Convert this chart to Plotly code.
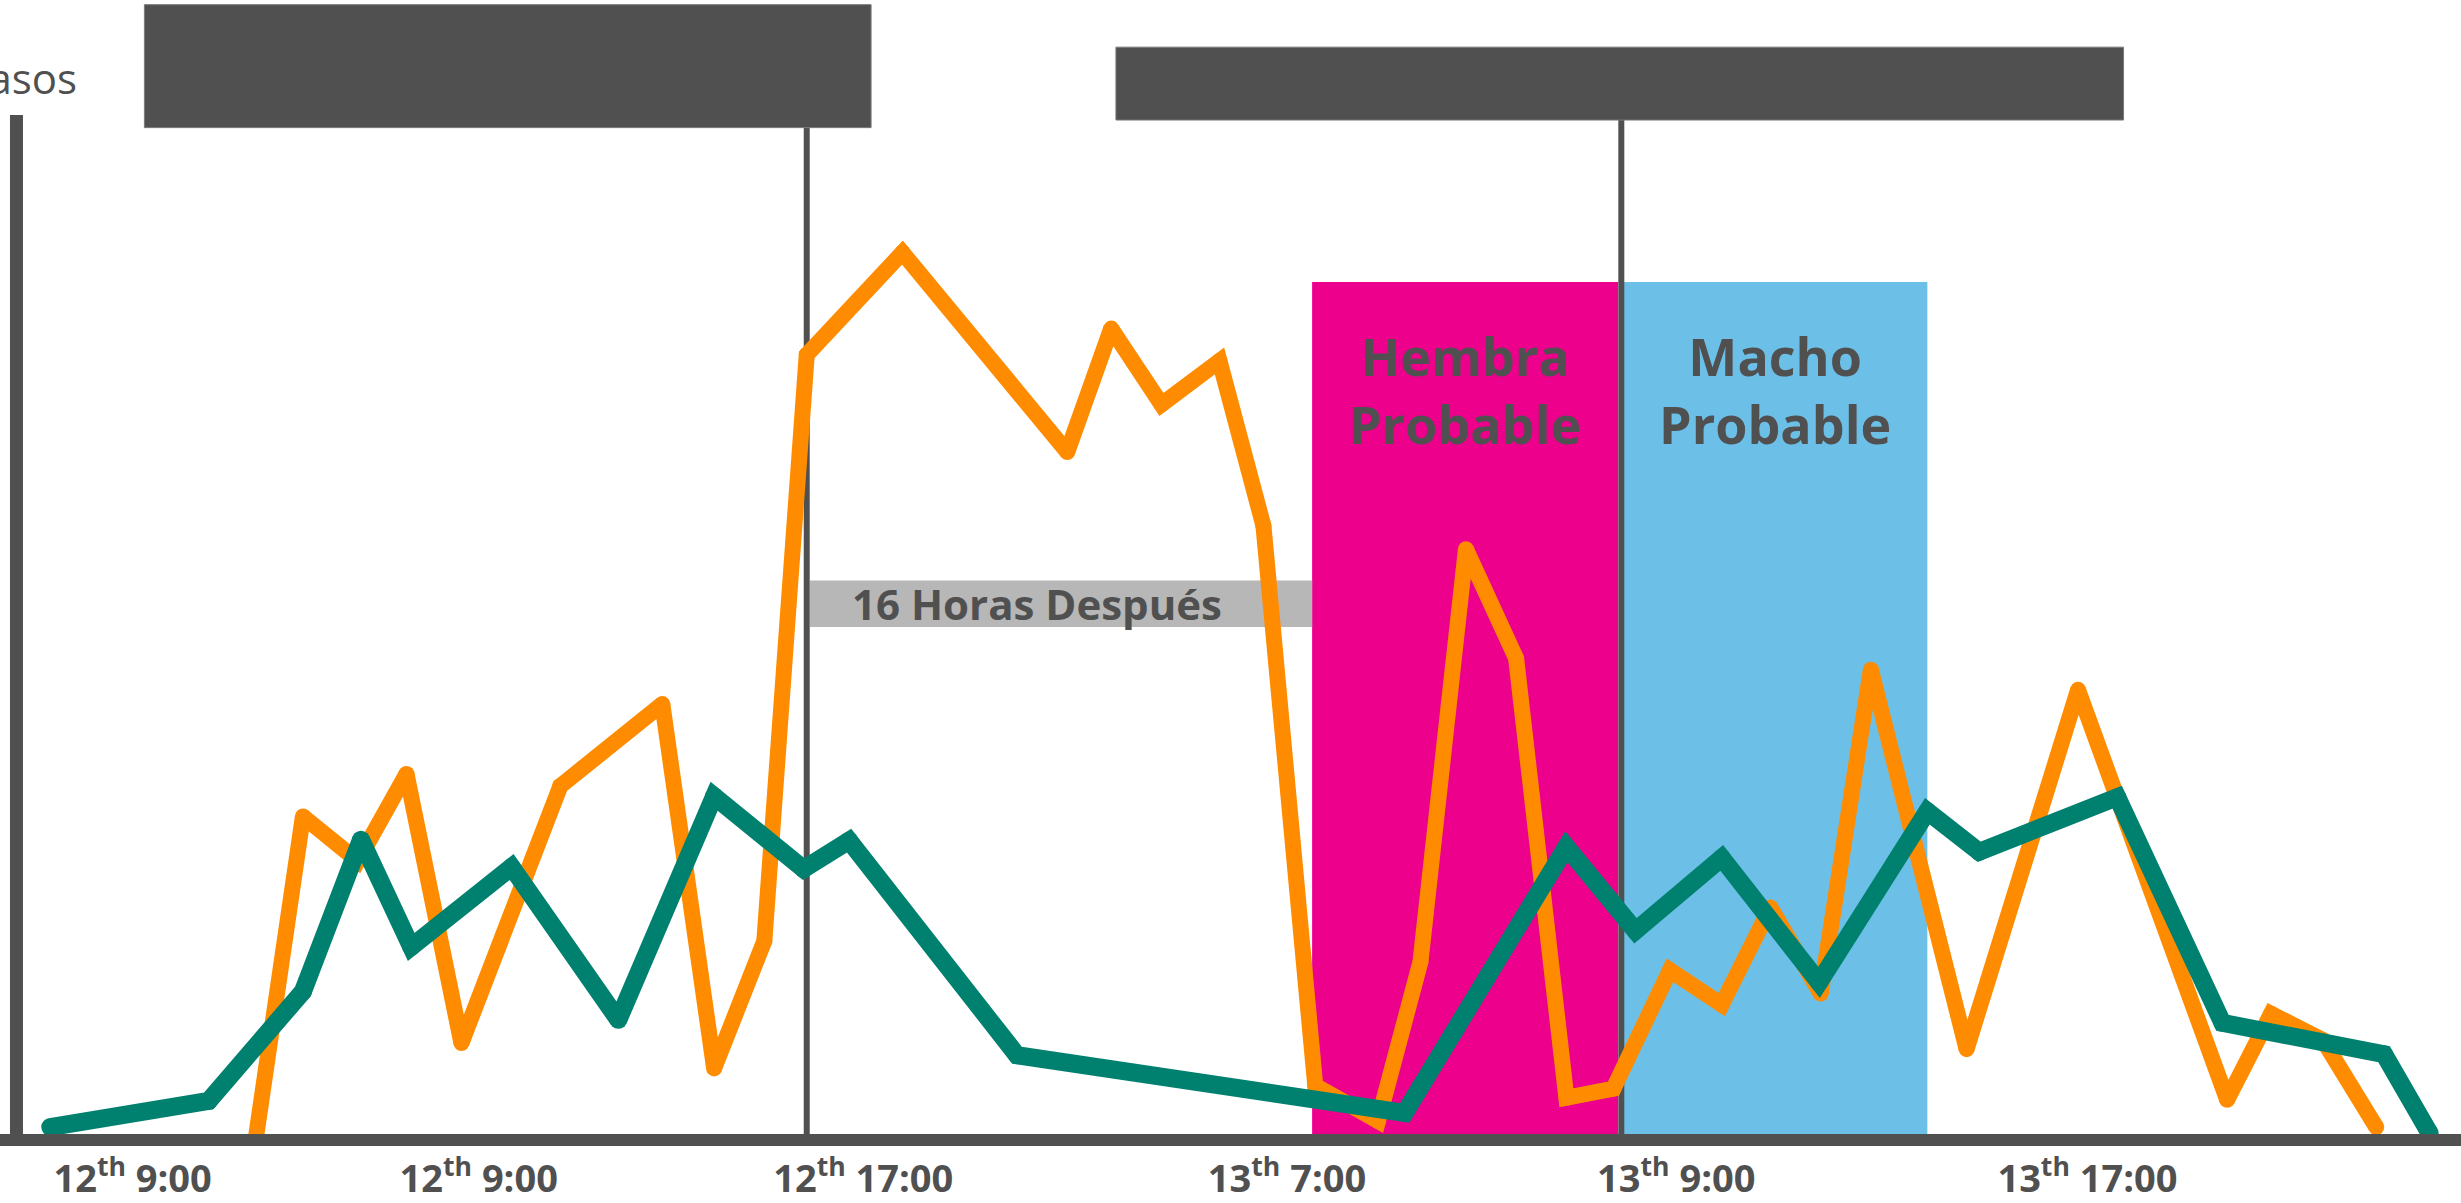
import plotly.graph_objects as go

# ---- data (x in chart time units, y in "casos" units) ----
orange_x = [16.3, 19.3, 22.8, 25.9, 29.4, 35.7, 42.2, 45.5, 48.7, 51.4, 57.5, 68.0, 70.8, 74.0,
            77.7, 80.5, 83.8, 87.8, 90.5, 93.4, 96.6, 99.8, 102.8, 106.4, 109.7, 112.8, 116.0,
            119.2, 125.3, 132.4, 141.9, 144.7, 148.0, 151.4]
orange_y = [0.0, 31.8, 27.4, 36.0, 9.4, 34.8, 42.9, 6.9, 19.5, 77.4, 87.5, 67.8, 80.0, 72.5,
            76.8, 60.5, 5.2, 1.7, 17.4, 58.2, 47.4, 4.0, 4.9, 16.6, 13.2, 22.8, 14.3,
            46.3, 8.8, 44.3, 3.8, 12.3, 9.7, 1.1]

green_x = [3.2, 13.3, 19.3, 23.0, 26.2, 32.6, 39.4, 45.5, 51.2, 54.1, 64.8, 89.5, 99.8, 104.2,
           109.7, 115.9, 122.8, 126.1, 134.9, 141.6, 151.9, 154.8]
green_y = [1.1, 3.7, 14.5, 29.5, 18.9, 26.8, 11.7, 33.8, 26.6, 29.4, 8.2, 2.5, 28.8, 20.5,
           27.7, 15.4, 32.3, 28.3, 33.7, 11.4, 8.3, 0.5]

tick_vals = [8.45, 30.5, 55.0, 82.0, 106.8, 133.0]
tick_text = ["<b>12<sup>th</sup> 9:00</b>", "<b>12<sup>th</sup> 9:00</b>", "<b>12<sup>th</sup> 17:00</b>",
             "<b>13<sup>th</sup> 7:00</b>", "<b>13<sup>th</sup> 9:00</b>", "<b>13<sup>th</sup> 17:00</b>"]

# annotation regions (x spans, y levels)
event_x = [51.4, 103.3]
hembra_span = [83.6, 103.1]
macho_span = [103.4, 122.8]
region_top = 84.6
band_span = [51.6, 83.6]
band_y = [50.5, 55.1]
box1 = [9.2, 55.5, 99.85, 112.0]
box2 = [71.1, 135.3, 100.6, 107.8]
yaxis_top = 101.1

DARK = "#505050"
ORANGE = "#FF8C00"
GREEN = "#00806E"
PINK = "#EC008C"
BLUE = "#6CC0E8"
BAND = "#B7B7B7"
FONT = "Open Sans"

fig = go.Figure()
fig.add_trace(go.Scatter(x=orange_x, y=orange_y, mode="lines+markers",
                         line=dict(color=ORANGE, width=16),
                         marker=dict(color=ORANGE, size=16, line=dict(width=0)),
                         hoverinfo="skip", showlegend=False))
fig.add_trace(go.Scatter(x=green_x, y=green_y, mode="lines+markers",
                         line=dict(color=GREEN, width=18),
                         marker=dict(color=GREEN, size=18, line=dict(width=0)),
                         hoverinfo="skip", showlegend=False))

shapes = []
shapes.append(dict(type="rect", xref="x", yref="y", x0=hembra_span[0], x1=hembra_span[1],
                   y0=0, y1=region_top, fillcolor=PINK, line=dict(width=0), layer="below"))
shapes.append(dict(type="rect", xref="x", yref="y", x0=macho_span[0], x1=macho_span[1],
                   y0=0, y1=region_top, fillcolor=BLUE, line=dict(width=0), layer="below"))
shapes.append(dict(type="rect", xref="x", yref="y", x0=band_span[0], x1=band_span[1],
                   y0=band_y[0], y1=band_y[1], fillcolor=BAND, line=dict(width=0), layer="below"))
shapes.append(dict(type="line", xref="x", yref="y", x0=event_x[0], x1=event_x[0],
                   y0=0, y1=box1[2], line=dict(color=DARK, width=6), layer="below"))
shapes.append(dict(type="line", xref="x", yref="y", x0=event_x[1], x1=event_x[1],
                   y0=0, y1=box2[2], line=dict(color=DARK, width=6), layer="below"))
for b in (box1, box2):
    shapes.append(dict(type="rect", xref="x", yref="y", x0=b[0], x1=b[1], y0=b[2], y1=b[3],
                       fillcolor=DARK, line=dict(color="#7a7a7a", width=1), layer="above"))
shapes.append(dict(type="line", xref="x", yref="y", x0=1.05, x1=1.05, y0=0, y1=yaxis_top,
                   line=dict(color=DARK, width=13), layer="above"))
fig.update_layout(shapes=shapes)

annotations = [
    dict(x=sum(hembra_span) / 2, y=74.0, xref="x", yref="y", text="<b>Hembra<br>Probable</b>",
         showarrow=False, font=dict(family=FONT, size=52, color=DARK), align="center"),
    dict(x=sum(macho_span) / 2, y=74.0, xref="x", yref="y", text="<b>Macho<br>Probable</b>",
         showarrow=False, font=dict(family=FONT, size=52, color=DARK), align="center"),
    dict(x=66.1, y=sum(band_y) / 2, xref="x", yref="y", text="<b>16 Horas Después</b>",
         showarrow=False, font=dict(family=FONT, size=42, color=DARK)),
    dict(x=79 / 2461, y=(1143 - 78) / 1143, xref="paper", yref="paper", text="Casos",
         xanchor="right", yanchor="middle", showarrow=False,
         font=dict(family=FONT, size=42, color=DARK)),
]
fig.update_layout(annotations=annotations)

fig.update_layout(
    width=2461, height=1203,
    margin=dict(l=0, r=0, t=0, b=60),
    paper_bgcolor="white", plot_bgcolor="white",
    xaxis=dict(range=[0, 156.8], showgrid=False, zeroline=False, showline=True,
               linecolor=DARK, linewidth=12, tickvals=tick_vals, ticktext=tick_text,
               ticks="", tickfont=dict(family=FONT, size=38, color=DARK)),
    yaxis=dict(range=[0.42, 112.46], showgrid=False, zeroline=False, showline=False,
               showticklabels=False, ticks=""),
)

fig.write_html("out.html", config={"displayModeBar": False},
               post_script="document.body.style.margin='0';")
